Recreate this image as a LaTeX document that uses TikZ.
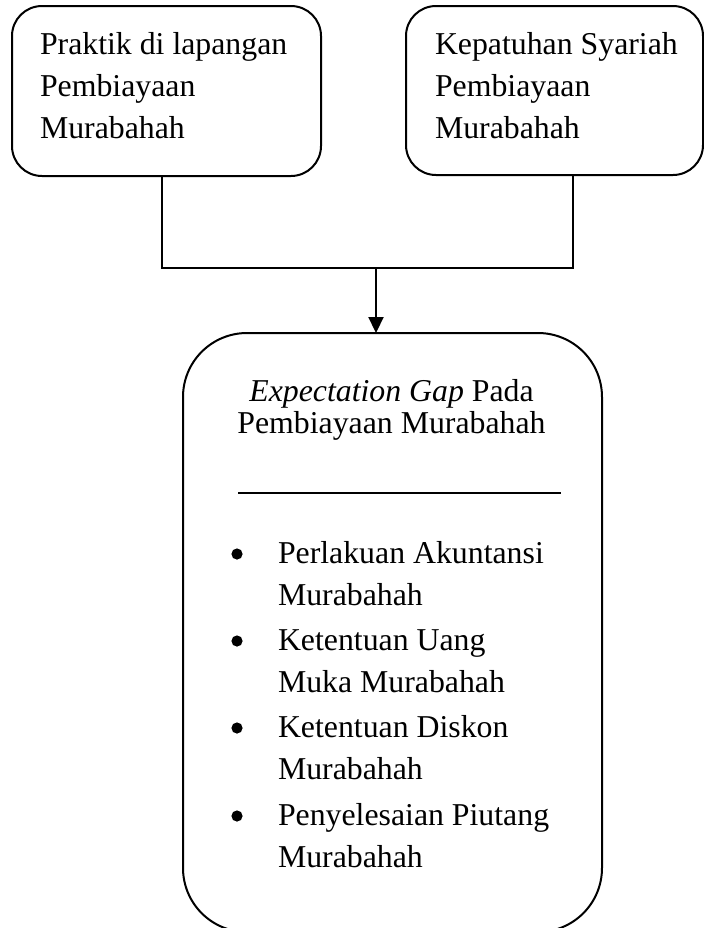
\documentclass[tikz,border=0pt]{standalone}
\usepackage{fontspec}
\setmainfont{Liberation Serif}
\usetikzlibrary{arrows.meta}

\begin{document}
\begin{tikzpicture}[x=0.5pt,y=-0.5pt,
  box/.style={draw, line width=1pt, inner sep=0pt, outer sep=0pt},
  % multi-line labels are placed by the baseline of their last line
  label/.style={inner sep=0pt, outer sep=0pt, align=left, anchor=base west,
    font=\fontsize{15.9}{21}\selectfont},
  title/.style={inner sep=0pt, outer sep=0pt, align=center, anchor=base,
    font=\fontsize{15.9}{15.9}\selectfont},
  dot/.style={circle, fill, inner sep=0pt, minimum size=5.6pt},
  link/.style={line width=1pt},
  arrowlink/.style={line width=1.1pt, -{Triangle[length=8pt,width=7.5pt]}}]
  \useasboundingbox (0,0) rectangle (704,928);

  % top boxes
  \node[box, rounded corners=15pt, minimum width=154.5pt, minimum height=85pt]
    (praktik) at (166.5,91) {};
  \node[box, rounded corners=15pt, minimum width=148.5pt, minimum height=84.5pt]
    (syariah) at (554.5,90.5) {};
  \node[label] (tpraktik) at (40,138)
    {Praktik di lapangan\\Pembiayaan\\Murabahah};
  \node[label] (tsyariah) at (435,138)
    {Kepatuhan Syariah\\Pembiayaan\\Murabahah};

  % result box
  \node[box, rounded corners=32pt, minimum width=209.5pt, minimum height=299.5pt]
    (gap) at (392.5,632.5) {};
  \node[title] (tgap) at (391.5,433)
    {\textit{Expectation Gap} Pada\\Pembiayaan Murabahah};
  \coordinate (sepL) at (238,493);
  \coordinate (sepR) at (561,493);
  \draw[link] (sepL) -- (sepR);

  % bullet items
  \node[dot] (b1) at (237,554) {};
  \node[label] (i1) at (278,605) {Perlakuan Akuntansi\\Murabahah};
  \node[dot] (b2) at (237,641) {};
  \node[label] (i2) at (278,692) {Ketentuan Uang\\Muka Murabahah};
  \node[dot] (b3) at (237,728) {};
  \node[label] (i3) at (278,779) {Ketentuan Diskon\\Murabahah};
  \node[dot] (b4) at (237,816) {};
  \node[label] (i4) at (278,867) {Penyelesaian Piutang\\Murabahah};

  % connectors
  \coordinate (jL) at (162,268);
  \coordinate (jR) at (573,268);
  \coordinate (jM) at (376,268);
  \draw[link] (praktik.south -| jL) -- (jL) -- (jR) -- (syariah.south -| jR);
  \draw[arrowlink] (jM) -- (gap.north -| jM);
\end{tikzpicture}
\end{document}
